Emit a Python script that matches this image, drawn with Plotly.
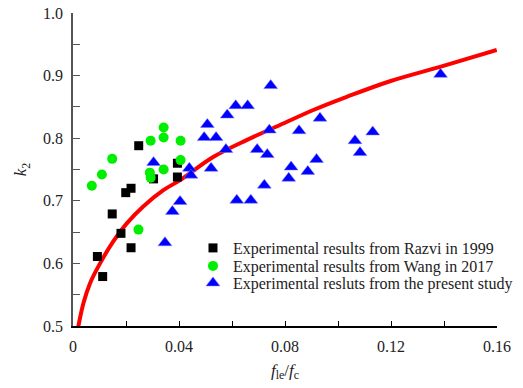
import plotly.graph_objects as go

# Razvi 1999
razvi_x = [0.0092, 0.0112, 0.0148, 0.0181, 0.0199, 0.0219, 0.0219, 0.0248, 0.0304, 0.0394, 0.0394]
razvi_y = [0.611, 0.579, 0.679, 0.648, 0.713, 0.720, 0.625, 0.788, 0.735, 0.760, 0.738]

# Wang 2017
wang_x = [0.0071, 0.0109, 0.0148, 0.0247, 0.0293, 0.0290, 0.0293, 0.0342, 0.0342, 0.0342, 0.0406, 0.0406]
wang_y = [0.724, 0.742, 0.767, 0.654, 0.796, 0.745, 0.737, 0.817, 0.801, 0.750, 0.796, 0.765]

# Present study
study_x = [0.0304, 0.0347, 0.0375, 0.0404, 0.0439, 0.0445, 0.0495, 0.0507, 0.0521, 0.0540,
           0.0577, 0.0582, 0.0614, 0.0618, 0.0659, 0.0671, 0.0695, 0.0722, 0.0733, 0.0741,
           0.0746, 0.0814, 0.0823, 0.0853, 0.0886, 0.0919, 0.0932, 0.1064, 0.1083, 0.1131,
           0.1387]
study_y = [0.761, 0.633, 0.683, 0.699, 0.752, 0.741, 0.801, 0.822, 0.752, 0.801,
           0.782, 0.837, 0.852, 0.701, 0.852, 0.701, 0.782, 0.725, 0.774, 0.813,
           0.884, 0.736, 0.754, 0.812, 0.747, 0.766, 0.832, 0.796, 0.777, 0.810,
           0.902]

# Fitted curve
curve_x = [0.0020, 0.0039, 0.0064, 0.0102, 0.0152, 0.0203, 0.0265, 0.0341, 0.0404,
           0.0529, 0.0655, 0.0781, 0.0907, 0.1033, 0.1196, 0.1385, 0.1599]
curve_y = [0.499, 0.536, 0.568, 0.600, 0.635, 0.664, 0.691, 0.717, 0.733,
           0.770, 0.797, 0.821, 0.845, 0.866, 0.891, 0.914, 0.941]

FONT = "Liberation Serif"
TXT = "#222222"

fig = go.Figure()
fig.add_trace(go.Scatter(x=curve_x, y=curve_y, mode="lines", line=dict(color="#ff0000", width=4, shape="spline"),
                         showlegend=False, hoverinfo="skip"))
fig.add_trace(go.Scatter(x=razvi_x, y=razvi_y, mode="markers", name="Experimental results from Razvi in 1999",
                         marker=dict(symbol="square", size=9, color="#000000"), legend="legend"))
fig.add_trace(go.Scatter(x=wang_x, y=wang_y, mode="markers", name="Experimental results from Wang in 2017",
                         marker=dict(symbol="circle", size=10, color="#00ee00"), legend="legend2"))
fig.add_trace(go.Scatter(x=study_x, y=study_y, mode="markers", name="Experimental resluts from the present study",
                         marker=dict(symbol="triangle-up", size=12, color="#0000ff",
                                     line=dict(color="#7777ff", width=0.5)), legend="legend3"))

def leg(yc):
    return dict(x=0.283, y=yc, xanchor="left", yanchor="middle", bgcolor="rgba(0,0,0,0)",
                font=dict(family=FONT, size=16, color=TXT), itemwidth=30)

fig.update_layout(
    width=523, height=388,
    margin=dict(l=73, r=26, t=13, b=62, autoexpand=False),
    plot_bgcolor="white", paper_bgcolor="white",
    font=dict(family=FONT, size=16, color=TXT),
    showlegend=True,
    legend=leg(0.2492),
    legend2=leg(0.1917),
    legend3=leg(0.1374),
)
fig.update_xaxes(
    range=[0, 0.16], tickvals=[0, 0.04, 0.08, 0.12, 0.16], ticktext=["0", "0.04", "0.08", "0.12", "0.16"],
    ticks="inside", ticklen=5, tickcolor="#000000", showline=True, linecolor="#000000", linewidth=1.5,
    showgrid=False, zeroline=False, ticklabelstandoff=5,
    tickfont=dict(family=FONT, size=16, color=TXT),
    minor=dict(ticks="inside", ticklen=5, tickvals=[0.02, 0.06, 0.10, 0.14], tickcolor="#000000"),
    title=dict(text="<i>f</i><sub>le</sub>/<i>f</i><sub>c</sub>", font=dict(family=FONT, size=17, color=TXT), standoff=10),
)
fig.update_yaxes(
    range=[0.5, 1.0], tickvals=[0.5, 0.6, 0.7, 0.8, 0.9, 1.0], ticktext=["0.5", "0.6", "0.7", "0.8", "0.9", "1.0"],
    ticks="inside", ticklen=7, tickcolor="#555555", showline=True, linecolor="#555555", linewidth=1.5,
    showgrid=False, zeroline=False, ticklabelstandoff=5,
    tickfont=dict(family=FONT, size=16, color=TXT),
    minor=dict(ticks="inside", ticklen=7, tickvals=[0.55, 0.65, 0.75, 0.85, 0.95], tickcolor="#555555"),
    title=dict(text="<i>k</i><sub>2</sub>", font=dict(family=FONT, size=17, color=TXT), standoff=12),
)

fig.write_html("out.html")
